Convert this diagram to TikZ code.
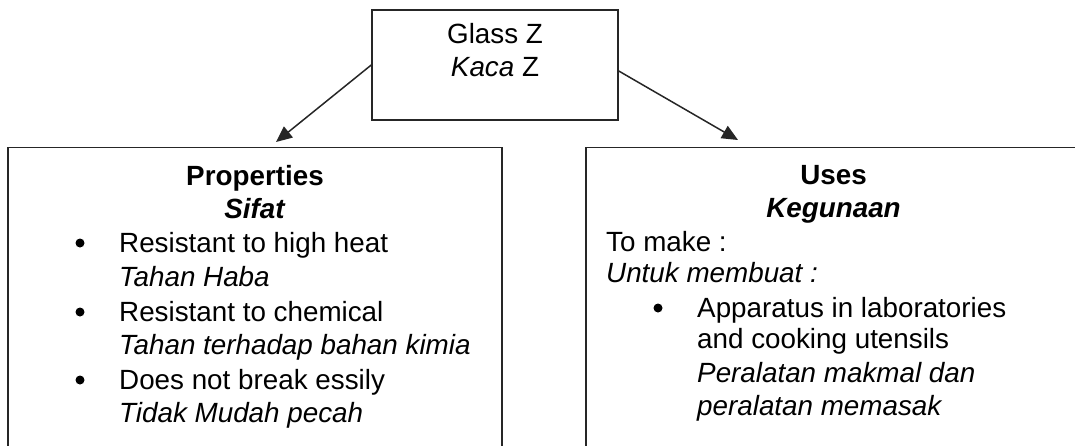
\documentclass[tikz,border=0pt]{standalone}
\usepackage{fontspec}
\setmainfont{Liberation Sans}
\usetikzlibrary{arrows.meta}
\begin{document}
\begin{tikzpicture}[x=1pt,y=-1pt,
  txt/.style={anchor=base west,inner sep=0pt,font=\fontsize{27.8}{33}\selectfont},
  head/.style={anchor=base,inner sep=0pt,font=\fontsize{27.8}{33}\selectfont},
  boxed/.style={draw=black!85,line width=1.5pt,inner sep=0pt},
  dot/.style={circle,fill=black,inner sep=0pt,minimum size=9pt},
  arr/.style={draw=black!85,line width=1.5pt,-{Triangle[length=16pt,width=14pt]}}]
\useasboundingbox (0,0) rectangle (1075,445);
\clip (0,0) rectangle (1075,445);
% boxes
\node[boxed,minimum width=246pt,minimum height=110pt] (top) at (495,65) {};
\node[boxed,minimum width=494pt,minimum height=332pt] (props) at (255,313.5) {};
\node[boxed,minimum width=495pt,minimum height=332pt] (uses) at (833.5,313.5) {};
% top text
\node[head] (glass) at (495,43) {Glass Z};
\node[head] (kaca) at (495,76) {\textit{Kaca} Z};
% arrows
\coordinate (lt) at (276,142);
\coordinate (rt) at (738,140);
\draw[arr] (top.west) -- (lt);
\draw[arr] ([yshift=-6pt]top.east) -- (rt);
% properties
\node[head] (ph) at (255,185) {\textbf{Properties}};
\node[head] (ps) at (255,218) {\textbf{\textit{Sifat}}};
\node[dot] (b1) at (80,243) {};
\node[txt] (p1) at (119,252) {Resistant to high heat};
\node[txt] (p1m) at (119,286) {\textit{Tahan Haba}};
\node[dot] (b2) at (80,312) {};
\node[txt] (p2) at (119,321) {Resistant to chemical};
\node[txt] (p2m) at (119,354) {\textit{Tahan terhadap bahan kimia}};
\node[dot] (b3) at (80,380) {};
\node[txt] (p3) at (119,389) {Does not break essily};
\node[txt] (p3m) at (119,422) {\textit{Tidak Mudah pecah}};
% uses
\node[head] (uh) at (833.5,184) {\textbf{Uses}};
\node[head] (us) at (833.5,217) {\textbf{\textit{Kegunaan}}};
\node[txt] (u1) at (606,251) {To make :};
\node[txt] (u1m) at (606,282) {\textit{Untuk membuat :}};
\node[dot] (b4) at (658,308) {};
\node[txt] (u2) at (697,317) {Apparatus in laboratories};
\node[txt] (u3) at (697,348) {and cooking utensils};
\node[txt] (u2m) at (697,382) {\textit{Peralatan makmal dan}};
\node[txt] (u3m) at (697,415) {\textit{peralatan memasak}};
\end{tikzpicture}
\end{document}
